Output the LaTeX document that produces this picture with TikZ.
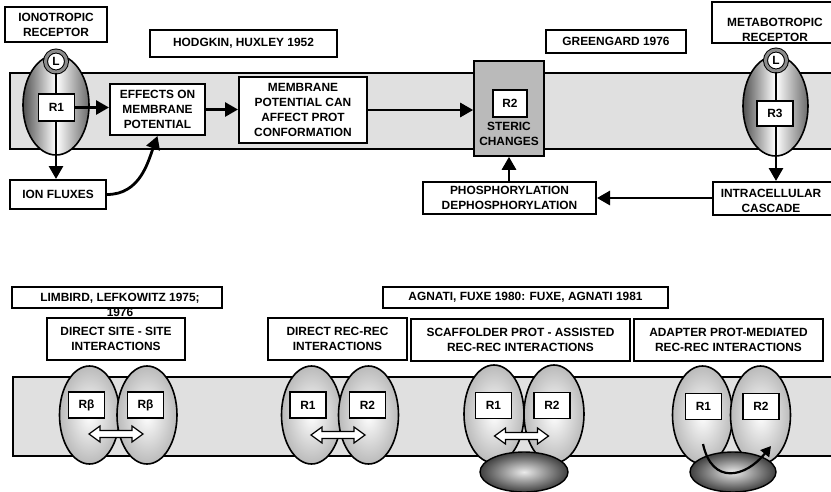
\documentclass[tikz,border=0pt]{standalone}
\usepackage{fontspec}
\setmainfont{Liberation Sans}
\usetikzlibrary{shapes.geometric,arrows.meta}
\begin{document}
\begin{tikzpicture}[x=1pt,y=-1pt,
  lbl/.style={font=\bfseries\fontsize{11.9}{15.2}\selectfont, align=center, inner sep=0pt},
  tbox/.style={draw, line width=2pt, fill=white, lbl},
  rbox/.style={draw, line width=1.3pt, fill=white, lbl, minimum width=36pt, minimum height=26pt},
  arr/.style={line width=2.8pt, -{Triangle[length=13pt,width=14pt]}},
  band/.style={fill=black!12, draw, line width=1.8pt},
  toprec/.style={ellipse, draw, line width=1.6pt, left color=black!68, right color=black!58, middle color=white, minimum width=66pt, minimum height=100pt, inner sep=0pt},
  botrec/.style={ellipse, draw, line width=1.6pt, inner color=white, outer color=black!27, minimum width=60pt, minimum height=98pt, inner sep=0pt},
  anchorprot/.style={ellipse, draw, line width=1.4pt, inner color=black!8, outer color=black!75, minimum width=88pt, minimum height=40pt, inner sep=0pt},
  ligand/.style={circle, draw, line width=1pt, fill=white, double=black!45, double distance=3pt, minimum size=21pt, lbl},
  dblarr/.pic={\draw[line width=1.2pt, fill=white, line join=miter]
     (-27,0) -- (-16,-8) -- (-16,-3.5) -- (16,-3.5) -- (16,-8) -- (27,0)
     -- (16,8) -- (16,3.5) -- (-16,3.5) -- (-16,8) -- cycle;},
]
\useasboundingbox (0,0) rectangle (831,491);
\fill[white] (0,0) rectangle (831,491);
\clip (0,0) rectangle (831,491);

% ---------- upper panel: membrane ----------
\path[band] (10,73) rectangle (845,149);

% titles
\node[tbox, minimum width=102pt, minimum height=35pt] (ionobox) at (56,24.5) {IONOTROPIC\\RECEPTOR};
\node[tbox, minimum width=187pt, minimum height=27pt] (hodg) at (243.5,43.5) {HODGKIN, HUXLEY 1952};
\node[tbox, minimum width=140pt, minimum height=23pt] (green) at (616,41.5) {GREENGARD 1976};
\node[tbox, minimum width=135pt, minimum height=41pt] (metabox) at (779.5,22.5) {};
\node[lbl] (metatxt) at (775,29.5) {METABOTROPIC\\RECEPTOR};

% ionotropic receptor
\node[toprec] (ionrec) at (56,105) {};
\node[ligand] (Lion) at (56,61.5) {L};
\node[tbox, minimum width=96pt, minimum height=29pt] (ionflux) at (58,194.5) {ION FLUXES};
\draw[arr] (Lion.south) -- (Lion.south |- ionflux.north);
\node[rbox, minimum height=27pt] (R1top) at (56.5,107.5) {R1};

% chain of effects
\node[tbox, minimum width=95pt, minimum height=51pt] (effects) at (157.5,109.5) {EFFECTS ON\\MEMBRANE\\POTENTIAL};
\node[tbox, minimum width=128pt, minimum height=66pt] (memb) at (303,110) {MEMBRANE\\POTENTIAL CAN\\AFFECT PROT\\CONFORMATION};
\node[draw, line width=1.6pt, fill=black!27, minimum width=70pt, minimum height=95pt] (steric) at (509,108.5) {};
\node[rbox, minimum width=34pt, minimum height=27pt] (R2top) at (510,103.5) {R2};
\node[lbl] (sterictxt) at (509,134) {STERIC\\CHANGES};

\draw[arr] (R1top.east) -- (R1top.east -| effects.west);
\draw[arr] (effects.east) -- (effects.east -| memb.west);
\draw[arr] (memb.east) -- (memb.east -| steric.west);
\draw[arr] (ionflux.east) .. controls (140,194.5) and (148,162) .. (effects.south);

% metabotropic receptor
\node[toprec, minimum width=65pt] (metrec) at (775.5,106) {};
\node[ligand] (Lmet) at (776,60.5) {L};
\node[tbox, minimum width=130pt, minimum height=33pt] (intracell) at (778,198.5) {};
\node[lbl] (celltxt) at (771,201) {INTRACELLULAR\\CASCADE};
\draw[arr] (Lmet.south) -- (Lmet.south |- intracell.north);
\node[rbox, minimum height=25pt] (R3top) at (775,113.5) {R3};

\node[tbox, minimum width=173pt, minimum height=32pt] (phospho) at (509.5,198) {PHOSPHORYLATION\\DEPHOSPHORYLATION};
\draw[arr] (phospho.east -| intracell.west) -- (phospho.east);
\draw[arr] (phospho.north -| steric.south) -- (steric.south);

% ---------- lower panel ----------
\node[tbox, minimum width=210pt, minimum height=21pt] (limbox) at (117,297.5) {};
\node[lbl] (limtxt) at (120,304.5) {LIMBIRD, LEFKOWITZ 1975;\\1976};
\node[tbox, minimum width=285pt, minimum height=21pt] (agnbox) at (525.5,297.5) {AGNATI, FUXE 1980: FUXE, AGNATI 1981};

\node[tbox, minimum width=138pt, minimum height=42pt] (dss) at (116,339) {DIRECT SITE - SITE\\INTERACTIONS};
\node[tbox, minimum width=139pt, minimum height=42pt] (drr) at (337.5,339) {DIRECT REC-REC\\INTERACTIONS};
\node[tbox, minimum width=219pt, minimum height=42pt] (scaf) at (520.5,340) {SCAFFOLDER PROT - ASSISTED\\REC-REC INTERACTIONS};
\node[tbox, minimum width=189pt, minimum height=42pt] (adap) at (728.5,340) {ADAPTER PROT-MEDIATED\\REC-REC INTERACTIONS};

\path[band] (13,377) rectangle (845,456);

% direct site-site pair
\node[botrec] (rbL) at (89.5,415) {};
\node[botrec] (rbR) at (147,415) {};
\node[rbox] (rbLbox) at (86.5,405) {Rβ};
\node[rbox] (rbRbox) at (145.5,405) {Rβ};
\pic at (116,434) {dblarr};

% direct rec-rec pair
\node[botrec] (drL) at (311.5,415) {};
\node[botrec] (drR) at (368.5,415) {};
\node[rbox] (drLbox) at (308,405) {R1};
\node[rbox] (drRbox) at (367.5,405) {R2};
\pic at (338,435) {dblarr};

% scaffold-assisted pair
\node[botrec] (scL) at (494,414) {};
\node[botrec] (scR) at (554,414) {};
\node[rbox] (scLbox) at (493.5,405.5) {R1};
\node[rbox] (scRbox) at (552,405.5) {R2};
\pic at (521.5,436) {dblarr};
\node[anchorprot] (scaffold) at (524,472) {};

% adapter-mediated pair
\node[botrec] (adL) at (702.5,415) {};
\node[botrec] (adR) at (760.5,415) {};
\node[rbox] (adLbox) at (703.5,406.5) {R1};
\node[rbox] (adRbox) at (761,406.5) {R2};
\node[anchorprot, minimum width=86pt] (adapter) at (733,472) {};
\coordinate (adS) at (703,444);
\coordinate (adE) at (771,446);
\draw[line width=2.2pt, -{Triangle[length=10pt,width=11pt]}] (adS) .. controls (712,485) and (745,478) .. (adE);
\end{tikzpicture}
\end{document}
